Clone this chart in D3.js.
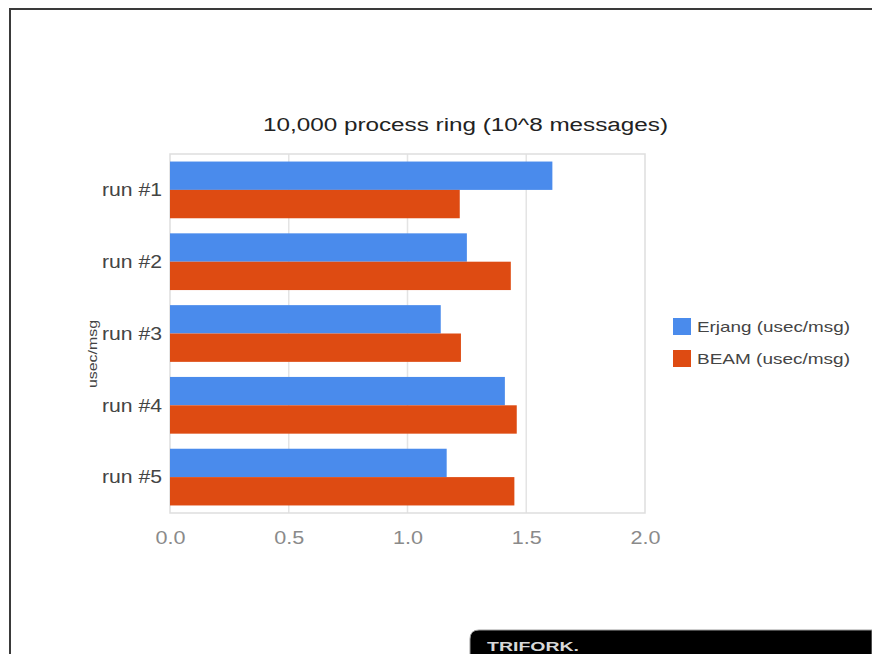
<!DOCTYPE html>
<html>
<head>
<meta charset="utf-8">
<script src="https://cdn.jsdelivr.net/npm/d3@7"></script>
<style>
  html, body { margin: 0; padding: 0; background: #fff; }
  svg { display: block; font-family: "Liberation Sans", Arial, sans-serif; }
</style>
</head>
<body>
<svg id="chart" width="872" height="654"></svg>
<script>
const svg = d3.select("svg#chart");
const width = +svg.attr("width");
const height = +svg.attr("height");

// data
const runs = ["run #1", "run #2", "run #3", "run #4", "run #5"];
const erjang = [1.61, 1.25, 1.14, 1.41, 1.165];
const beam = [1.22, 1.435, 1.225, 1.46, 1.45];
const seriesNames = ["Erjang (usec/msg)", "BEAM (usec/msg)"];
const seriesColors = ["#4a8bec", "#de4b12"];
const xTicks = [0, 0.5, 1.0, 1.5, 2.0];

const plot = {left: 170, right: 645, top: 154, bottom: 513};

// outer frame (top and left edges only)
svg.append("path")
    .attr("d", `M10,${height} L10,9 L${width},9`)
    .attr("fill", "none")
    .attr("stroke", "#3a3a3a")
    .attr("stroke-width", 2);

const x = d3.scaleLinear().domain([0, 2]).range([plot.left, plot.right]);
const y = d3.scaleBand().domain(runs)
    .range([plot.top, plot.bottom])
    .paddingInner(0.21)
    .paddingOuter(0.105);
const sub = d3.scaleBand().domain([0, 1]).range([0, y.bandwidth()]);

// gridlines
svg.append("g")
    .selectAll("line")
    .data(xTicks.slice(1, -1))
    .enter().append("line")
      .attr("x1", d => x(d)).attr("x2", d => x(d))
      .attr("y1", plot.top).attr("y2", plot.bottom)
      .attr("stroke", "#e4e4e4")
      .attr("stroke-width", 1.5);

svg.append("rect")
    .attr("x", plot.left).attr("y", plot.top)
    .attr("width", plot.right - plot.left)
    .attr("height", plot.bottom - plot.top)
    .attr("fill", "none")
    .attr("stroke", "#dedede")
    .attr("stroke-width", 1.5);

// bars
const rows = runs.map((r, i) => ({run: r, vals: [erjang[i], beam[i]]}));
const group = svg.append("g").attr("class", "bars")
    .selectAll("g")
    .data(rows)
    .enter().append("g")
      .attr("transform", d => `translate(0,${y(d.run)})`);

group.selectAll("rect")
    .data(d => d.vals.map((v, k) => ({v: v, k: k})))
    .enter().append("rect")
      .attr("x", x(0))
      .attr("y", d => sub(d.k))
      .attr("width", d => x(d.v) - x(0))
      .attr("height", sub.bandwidth())
      .attr("fill", d => seriesColors[d.k]);

// x axis labels
const xAxis = svg.append("g")
    .attr("transform", `translate(0,${plot.bottom + 17})`)
    .call(d3.axisBottom(x).tickValues(xTicks).tickFormat(d3.format(".1f")).tickSize(0).tickPadding(0));
xAxis.select(".domain").remove();
xAxis.selectAll("text")
    .attr("fill", "#8a8a8a")
    .style("font-size", "19px")
    .attr("textLength", 30)
    .attr("lengthAdjust", "spacingAndGlyphs");

// y axis labels
const yAxis = svg.append("g")
    .attr("transform", `translate(${plot.left - 8},0)`)
    .call(d3.axisLeft(y).tickSize(0).tickPadding(0));
yAxis.select(".domain").remove();
yAxis.selectAll("text")
    .attr("fill", "#444")
    .attr("dy", "0.35em")
    .style("font-size", "18px")
    .attr("textLength", 60)
    .attr("lengthAdjust", "spacingAndGlyphs");

// y axis title
svg.append("text")
    .attr("transform", "translate(97,354) rotate(-90)")
    .attr("text-anchor", "middle")
    .attr("fill", "#444")
    .style("font-size", "13px")
    .attr("textLength", 68)
    .attr("lengthAdjust", "spacingAndGlyphs")
    .text("usec/msg");

// title
svg.append("text")
    .attr("x", 263).attr("y", 131)
    .attr("fill", "#222")
    .style("font-size", "18px")
    .attr("textLength", 405)
    .attr("lengthAdjust", "spacingAndGlyphs")
    .text("10,000 process ring (10^8 messages)");

// legend
const legend = svg.append("g").attr("transform", "translate(673,318)");
const item = legend.selectAll("g")
    .data(seriesNames)
    .enter().append("g")
      .attr("transform", (d, i) => `translate(0,${i * 32})`);
item.append("rect")
    .attr("width", 18).attr("height", 17)
    .attr("fill", (d, i) => seriesColors[i]);
item.append("text")
    .attr("x", 24).attr("y", 14)
    .attr("fill", "#444")
    .style("font-size", "15px")
    .attr("textLength", 153)
    .attr("lengthAdjust", "spacingAndGlyphs")
    .text(d => d);

// footer bar
const footer = svg.append("g");
footer.append("path")
    .attr("d", `M470,${height + 2} L470,639 Q470,630 479,630 L${width},630 L${width},${height + 2} Z`)
    .attr("fill", "#000")
    .attr("stroke", "#9a9a9a")
    .attr("stroke-width", 1);
footer.append("text")
    .attr("x", 487).attr("y", 651)
    .attr("fill", "#d8d8d8")
    .style("font-size", "12px")
    .style("font-weight", "bold")
    .attr("textLength", 92)
    .attr("lengthAdjust", "spacingAndGlyphs")
    .text("TRIFORK.");
</script>
</body>
</html>
